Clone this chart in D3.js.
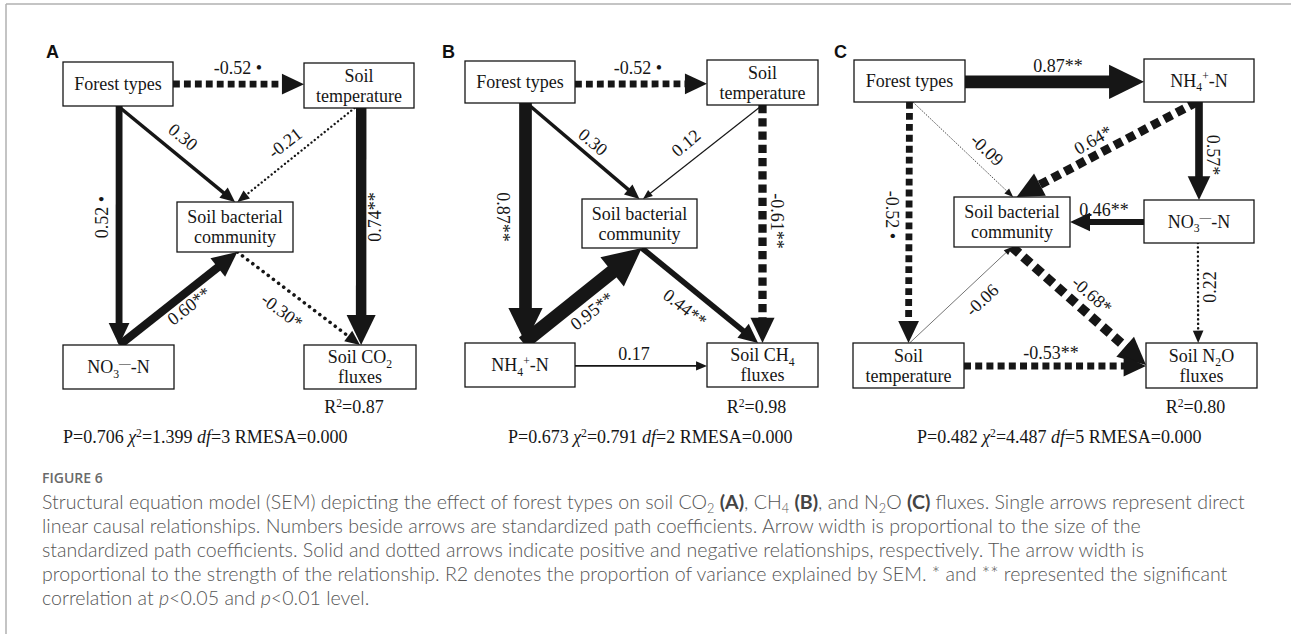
<!DOCTYPE html>
<html>
<head>
<meta charset="utf-8">
<script src="https://cdn.jsdelivr.net/npm/d3@7"></script>
<style>
body { margin: 0; background: #fff; }
svg { display: block; }
</style>
</head>
<body>
<svg id="fig" width="1291" height="634"></svg>
<script>
// DATA ---------------------------------------------------------------
var panels = ["A", "B", "C"];

// node labels ('_x' = subscript, '^x' = superscript)
var nodesA = { ft: ["Forest types"], st: ["Soil", "temperature"], sbc: ["Soil bacterial", "community"],
               no3: ["NO_3^—-N"], co2: ["Soil CO_2", "fluxes"] };
var nodesB = { ft: ["Forest types"], st: ["Soil", "temperature"], sbc: ["Soil bacterial", "community"],
               nh4: ["NH_4^+-N"], ch4: ["Soil CH_4", "fluxes"] };
var nodesC = { ft: ["Forest types"], nh4: ["NH_4^+-N"], no3: ["NO_3^—-N"], sbc: ["Soil bacterial", "community"],
               st: ["Soil", "temperature"], n2o: ["Soil N_2O", "fluxes"] };

// paths: [from, to, standardized coefficient, significance]
var pathsA = [["ft", "st", -0.52, "•"], ["ft", "sbc", 0.30, ""], ["st", "sbc", -0.21, ""],
              ["ft", "no3", 0.52, "•"], ["st", "co2", 0.74, "**"], ["no3", "sbc", 0.60, "**"],
              ["sbc", "co2", -0.30, "*"]];
var pathsB = [["ft", "st", -0.52, "•"], ["ft", "sbc", 0.30, ""], ["st", "sbc", 0.12, ""],
              ["ft", "nh4", 0.87, "**"], ["st", "ch4", -0.61, "**"], ["nh4", "sbc", 0.95, "**"],
              ["sbc", "ch4", 0.44, "**"], ["nh4", "ch4", 0.17, ""]];
var pathsC = [["ft", "nh4", 0.87, "**"], ["ft", "sbc", -0.09, ""], ["nh4", "sbc", 0.64, "*"],
              ["nh4", "no3", 0.57, "*"], ["no3", "sbc", 0.46, "**"], ["ft", "st", -0.52, "•"],
              ["st", "sbc", -0.06, ""], ["sbc", "n2o", -0.68, "*"], ["no3", "n2o", 0.22, ""],
              ["st", "n2o", -0.53, "**"]];

// which paths are drawn dotted in the figure
var dottedA = [1, 0, 1, 0, 0, 0, 1];
var dottedB = [1, 0, 0, 0, 1, 0, 0, 0];
var dottedC = [0, 1, 1, 0, 0, 1, 0, 1, 1, 1];

var r2Values = [0.87, 0.98, 0.80];
var r2Target = ["co2", "ch4", "n2o"];
var fitP = [0.706, 0.673, 0.482];
var fitChi2 = [1.399, 0.791, 4.487];
var fitDf = [3, 2, 5];
var fitRmsea = [0.000, 0.000, 0.000];

var figureTitle = "FIGURE 6";
var captionLines = [
  [["Structural equation model (SEM) depicting the effect of forest types on soil CO"], ["2", "sub"], [" "], ["(A)", "b"],
   [", CH"], ["4", "sub"], [" "], ["(B)", "b"], [", and N"], ["2", "sub"], ["O "], ["(C)", "b"],
   [" fluxes. Single arrows represent direct"]],
  [["linear causal relationships. Numbers beside arrows are standardized path coefficients. Arrow width is proportional to the size of the"]],
  [["standardized path coefficients. Solid and dotted arrows indicate positive and negative relationships, respectively. The arrow width is"]],
  [["proportional to the strength of the relationship. R2 denotes the proportion of variance explained by SEM. * and ** represented the significant"]],
  [["correlation at "], ["p", "i"], ["<0.05 and "], ["p", "i"], ["<0.01 level."]]
];

// LAYOUT --------------------------------------------------------------
var boxesA = { ft: [63, 62, 173, 106], st: [304, 63, 414, 108], sbc: [177, 202, 293, 252],
               no3: [63, 345, 174, 389], co2: [304, 345, 416, 389] };
var boxesB = { ft: [465, 61, 575, 103], st: [707, 60, 818, 105], sbc: [582, 199, 697, 248],
               nh4: [465, 343, 575, 387], ch4: [707, 343, 818, 387] };
var boxesC = { ft: [854, 60, 965, 102], nh4: [1144, 59, 1254, 102], no3: [1144, 200, 1254, 243],
               sbc: [954, 197, 1070, 247], st: [853, 343, 964, 388], n2o: [1146, 343, 1257, 388] };

// anchors on box sides: [fromSide, frac, toSide, frac]
var anchorsA = [["r", .5, "l", .47], ["b", .5, "t", .5], ["b", .46, "t", .52], ["b", .51, "t", .505],
                ["b", .52, "t", .51], ["t", .51, "b", .52], ["b", .52, "t", .5]];
var anchorsB = [["r", .55, "l", .53], ["b", .56, "t", .5], ["b", .5, "t", .53], ["b", .55, "t", .55],
                ["b", .5, "t", .5], ["t", .53, "b", .52], ["b", .52, "t", .46], ["r", .52, "l", .52]];
var anchorsC = [["r", .52, "l", .53], ["b", .53, "t", .51], ["b", .48, "t", .54], ["b", .5, "t", .5],
                ["l", .51, "r", .5], ["b", .5, "t", .5], ["t", .51, "b", .5], ["b", .5, "l", .49],
                ["b", .49, "t", .47], ["r", .51, "l", .51]];

// coefficient label placement: [cx, cy, rotation]
var labelPosA = [[238, 68, 0], [183, 137, 39], [285, 143, -38], [102, 217, -90], [375, 217, -90],
                 [189, 306, -38], [282, 311, 37]];
var labelPosB = [[638, 68, 0], [593, 142, 40], [686, 143, -40], [503, 217, 90], [777, 221, 90],
                 [592, 311, -38], [685, 308, 38], [634, 354, 0]];
var labelPosC = [[1058, 66, 0], [987, 150, 43], [1093, 140, -30], [1213, 155, 90], [1104, 210, 0],
                 [892, 215, 90], [982, 300, -43], [1092, 295, 41], [1210, 287, -90], [1051, 353, 0]];

var panelLetterX = [46, 442, 834];
var fitTextX = [63, 508, 917];

var allNodes = [nodesA, nodesB, nodesC];
var allPaths = [pathsA, pathsB, pathsC];
var allDotted = [dottedA, dottedB, dottedC];
var allBoxes = [boxesA, boxesB, boxesC];
var allAnchors = [anchorsA, anchorsB, anchorsC];
var allLabelPos = [labelPosA, labelPosB, labelPosC];

// DRAW ----------------------------------------------------------------
var svg = d3.select("#fig");
var serif = "'Liberation Serif', 'Times New Roman', serif";
var ink = "#161616";
var fmt2 = d3.format(".2f");
function fmt(v) { return fmt2(v).replace("−", "-"); }
var widthScale = d3.scalePow().exponent(1.2).domain([0, 1]).range([0, 15]);

// page frame (top & left rules)
svg.append("line").attr("x1", 6).attr("y1", 4).attr("x2", 1291).attr("y2", 4)
    .attr("stroke", "#b0b0b0").attr("stroke-width", 1.5);
svg.append("line").attr("x1", 6).attr("y1", 4).attr("x2", 6).attr("y2", 634)
    .attr("stroke", "#b0b0b0").attr("stroke-width", 1.5);

function richText(sel, segs, size) {
    var shift = 0;
    segs.forEach(function(s) {
        var st = s[1] || "";
        var target = st === "sub" ? 0.25 * size : st === "sup" ? -0.36 * size : 0;
        var ts = sel.append("tspan").attr("dy", target - shift).text(s[0]);
        if (st === "sub" || st === "sup") ts.attr("font-size", size * 0.65);
        if (st === "i") ts.attr("font-style", "italic");
        if (st === "b") ts.attr("font-weight", 700).attr("fill", "#444");
        shift = target;
    });
}

function parseMarkup(str) {
    var segs = [], i = 0;
    while (i < str.length) {
        var ch = str[i];
        if (ch === "_" || ch === "^") {
            segs.push([str[i + 1], ch === "_" ? "sub" : "sup"]);
            i += 2;
        } else {
            var j = i;
            while (j < str.length && str[j] !== "_" && str[j] !== "^") j++;
            segs.push([str.slice(i, j)]);
            i = j;
        }
    }
    return segs;
}

function anchor(b, side, f) {
    if (side === "t") return [b[0] + f * (b[2] - b[0]), b[1]];
    if (side === "b") return [b[0] + f * (b[2] - b[0]), b[3]];
    if (side === "l") return [b[0], b[1] + f * (b[3] - b[1])];
    return [b[2], b[1] + f * (b[3] - b[1])];
}

function drawArrow(g, p0, p1, w, dotted) {
    var dx = p1[0] - p0[0], dy = p1[1] - p0[1];
    var len = Math.sqrt(dx * dx + dy * dy);
    var ux = dx / len, uy = dy / len;
    var hl = 2.2 * w + 7, hw = 2.3 * w + 5;
    var bx = p1[0] - ux * hl, by = p1[1] - uy * hl;
    var line = g.append("line")
        .attr("x1", p0[0]).attr("y1", p0[1])
        .attr("x2", bx + ux).attr("y2", by + uy)
        .attr("stroke", ink)
        .attr("stroke-width", w);
    if (dotted) {
        if (w >= 4.5) {
            line.attr("stroke-dasharray", w + "," + (w * 0.6));
        } else if (w >= 1.5) {
            line.attr("stroke-dasharray", "0.1," + (w * 1.8)).attr("stroke-linecap", "round");
        } else {
            line.attr("stroke-dasharray", "1.3,1.3");
        }
    }
    var px = -uy * hw / 2, py = ux * hw / 2;
    g.append("path")
        .attr("d", "M" + p1[0] + "," + p1[1] +
              "L" + (bx + px) + "," + (by + py) +
              "L" + (bx - px) + "," + (by - py) + "Z")
        .attr("fill", ink);
}

panels.forEach(function(letter, pi) {
    var g = svg.append("g").attr("class", "panel");
    var boxes = allBoxes[pi], nodes = allNodes[pi];

    g.append("text")
        .attr("x", panelLetterX[pi]).attr("y", 58)
        .attr("font-family", "'Liberation Sans', Arial, sans-serif")
        .attr("font-weight", 700).attr("font-size", 18)
        .attr("fill", "#111")
        .text(letter);

    // coefficient labels
    allPaths[pi].forEach(function(p, k) {
        var lp = allLabelPos[pi][k];
        var txt = fmt(p[2]) + (p[3] === "•" ? " •" : p[3]);
        g.append("text")
            .attr("x", lp[0]).attr("y", lp[1])
            .attr("transform", "rotate(" + lp[2] + "," + lp[0] + "," + lp[1] + ")")
            .attr("text-anchor", "middle")
            .attr("dominant-baseline", "central")
            .attr("font-family", serif).attr("font-size", 18)
            .attr("fill", ink)
            .text(txt);
    });

    // arrows
    allPaths[pi].forEach(function(p, k) {
        var a = allAnchors[pi][k];
        var p0 = anchor(boxes[p[0]], a[0], a[1]);
        var p1 = anchor(boxes[p[1]], a[2], a[3]);
        var w = Math.max(0.6, widthScale(Math.abs(p[2])));
        drawArrow(g, p0, p1, w, allDotted[pi][k] === 1);
    });

    // boxes
    Object.keys(nodes).forEach(function(key) {
        var b = boxes[key];
        g.append("rect")
            .attr("x", b[0]).attr("y", b[1])
            .attr("width", b[2] - b[0]).attr("height", b[3] - b[1])
            .attr("fill", "#fff").attr("stroke", ink).attr("stroke-width", 1.3);
        var cx = (b[0] + b[2]) / 2, cy = (b[1] + b[3]) / 2;
        var lines = nodes[key];
        var y0 = lines.length === 1 ? cy + 6 : cy - 4;
        lines.forEach(function(l, li) {
            var t = g.append("text")
                .attr("x", cx).attr("y", y0 + li * 20)
                .attr("text-anchor", "middle")
                .attr("font-family", serif).attr("font-size", 18)
                .attr("fill", ink);
            richText(t, parseMarkup(l), 18);
        });
    });

    // R squared
    var tb = boxes[r2Target[pi]];
    var r2 = g.append("text")
        .attr("x", (tb[0] + tb[2]) / 2 - 6).attr("y", 413)
        .attr("text-anchor", "middle")
        .attr("font-family", serif).attr("font-size", 18).attr("fill", ink);
    richText(r2, [["R"], ["2", "sup"], ["=" + fmt(r2Values[pi])]], 18);

    // model fit
    var fit = g.append("text")
        .attr("x", fitTextX[pi]).attr("y", 443)
        .attr("font-family", serif).attr("font-size", 18).attr("fill", ink);
    richText(fit, [["P=" + d3.format(".3f")(fitP[pi]) + " "], ["χ", "i"], ["2", "sup"],
                   ["=" + d3.format(".3f")(fitChi2[pi]) + " "], ["df", "i"],
                   ["=" + fitDf[pi] + " RMESA=" + d3.format(".3f")(fitRmsea[pi])]], 18);
});

// CAPTION -------------------------------------------------------------
var capFont = "Lato, 'Open Sans', sans-serif";
svg.append("text")
    .attr("x", 42).attr("y", 483)
    .attr("font-family", "'Open Sans', sans-serif").attr("font-size", 14).attr("font-weight", 600)
    .attr("fill", "#6a6a6a")
    .text(figureTitle);

var capSize = 16;
var capTexts = captionLines.map(function(segs, i) {
    var t = svg.append("text")
        .attr("x", 42).attr("y", 509 + i * 24)
        .attr("font-family", capFont).attr("font-size", capSize).attr("font-weight", 300)
        .attr("fill", "#555");
    richText(t, segs, capSize);
    return t;
});
// fit first caption line to its width in the figure
var firstLen = capTexts[0].node().getComputedTextLength();
var k = 1203 / firstLen;
capTexts.forEach(function(t) {
    t.attr("font-size", capSize * k);
    t.selectAll("tspan").filter(function() { return d3.select(this).attr("font-size"); })
        .attr("font-size", capSize * k * 0.65);
});
</script>
</body>
</html>
